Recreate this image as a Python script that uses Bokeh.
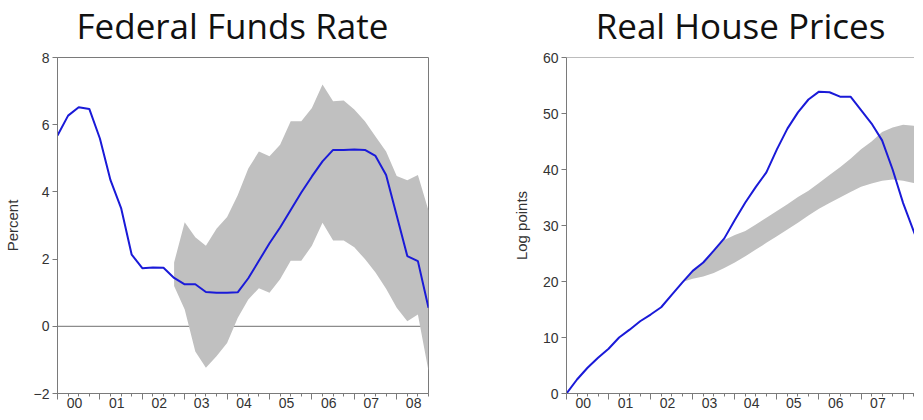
from bokeh.plotting import figure
from bokeh.layouts import row
from bokeh.models import Range1d, FixedTicker, LinearAxis, Span
from bokeh.embed import file_html
from bokeh.resources import INLINE

# ---------------- data ----------------
quarters = [2000 + q / 4 for q in range(36)]          # 2000Q1 .. 2008Q4
years = list(range(2000, 2009))
year_labels = ["00", "01", "02", "03", "04", "05", "06", "07", "08"]

fed_funds = [5.68, 6.27, 6.52, 6.47, 5.59, 4.35, 3.52, 2.13, 1.73, 1.75, 1.74, 1.44,
             1.25, 1.25, 1.02, 1.00, 1.00, 1.01, 1.43, 1.95, 2.47, 2.94, 3.46, 3.98,
             4.46, 4.91, 5.25, 5.25, 5.26, 5.25, 5.07, 4.50, 3.30, 2.09, 1.94, 0.55]

band_quarters = quarters[11:]                          # 2002Q4 .. 2008Q4
ff_upper = [1.9, 3.1, 2.65, 2.4, 2.9, 3.25, 3.9, 4.7, 5.2, 5.06, 5.4, 6.1, 6.1,
            6.5, 7.2, 6.7, 6.72, 6.45, 6.1, 5.65, 5.2, 4.47, 4.35, 4.5, 3.45]
ff_lower = [1.2, 0.5, -0.75, -1.23, -0.89, -0.5, 0.25, 0.8, 1.13, 1.0, 1.4, 1.95, 1.95,
            2.4, 3.08, 2.55, 2.55, 2.35, 2.0, 1.6, 1.12, 0.55, 0.15, 0.35, -1.33]

house_prices = [0.0, 2.5, 4.6, 6.4, 8.0, 10.0, 11.4, 12.9, 14.1, 15.4, 17.6, 19.8,
                21.9, 23.4, 25.5, 27.7, 31.0, 34.1, 36.9, 39.5, 43.6, 47.3, 50.2, 52.5,
                53.9, 53.8, 53.0, 53.0, 50.6, 48.2, 45.2, 40.0, 34.0, 29.0, 24.0, 19.0]
hp_upper = [19.9, 21.9, 23.4, 25.5, 27.4, 28.3, 29.0, 30.2, 31.4, 32.6, 33.8, 35.1, 36.2,
            37.6, 39.0, 40.4, 41.9, 43.6, 45.0, 46.7, 47.5, 48.0, 47.8, 47.3, 46.6]
hp_lower = [19.9, 20.5, 20.9, 21.5, 22.4, 23.4, 24.5, 25.7, 26.9, 28.1, 29.3, 30.5, 31.8,
            33.0, 34.0, 35.0, 36.0, 36.9, 37.5, 38.0, 38.2, 38.0, 37.6, 37.2, 36.6]

ff_ticks = [-2, 0, 2, 4, 6, 8]
hp_ticks = [0, 10, 20, 30, 40, 50, 60]

# ---------------- style ----------------
FRAME = "#7a7a7a"
BLUE = "#1a1ad8"
BAND = "#c0c0c0"
TXT = "#333333"
TICK_FONT = "Liberation Sans"
TITLE_FONT = "Open Sans"


def style_axes(p, y_ticks, y_label, label_range_end):
    # bottom axis 1: tick marks only (labels not painted)
    xa = p.xaxis[0]
    xa.ticker = FixedTicker(ticks=years, minor_ticks=quarters)
    xa.axis_line_color = FRAME
    xa.major_tick_line_color = FRAME
    xa.minor_tick_line_color = FRAME
    xa.major_tick_out = 6
    xa.major_tick_in = 0
    xa.minor_tick_out = 3
    xa.minor_tick_in = 0
    xa.major_label_text_color = None
    xa.major_label_text_font_size = "1px"
    xa.major_label_standoff = 0
    xa.axis_label = None
    # bottom axis 2: year labels set between the year ticks
    p.extra_x_ranges = {"lbl": Range1d(2000 - 0.4, label_range_end - 0.4)}
    la = LinearAxis(x_range_name="lbl",
                    ticker=FixedTicker(ticks=years, minor_ticks=[]),
                    major_label_overrides={y: s for y, s in zip(years, year_labels)},
                    axis_line_color=None, major_tick_line_color=None,
                    minor_tick_line_color=None, major_tick_out=0, major_tick_in=0,
                    major_label_standoff=-2, axis_label=None,
                    major_label_text_font=TICK_FONT,
                    major_label_text_font_size="14px",
                    major_label_text_color=TXT)
    p.add_layout(la, "below")

    # invisible spacer axis above the frame (keeps the title clear of the frame)
    sp = LinearAxis(ticker=FixedTicker(ticks=[years[0]], minor_ticks=[]),
                    axis_line_color=None, major_tick_line_color=None,
                    minor_tick_line_color=None, major_tick_out=6, major_tick_in=0,
                    major_label_standoff=0, major_label_text_color=None,
                    major_label_text_font_size="1px", axis_label=None)
    p.add_layout(sp, "above")

    ya = p.yaxis[0]
    ya.ticker = FixedTicker(ticks=y_ticks, minor_ticks=[])
    ya.axis_line_color = FRAME
    ya.major_tick_line_color = FRAME
    ya.major_tick_out = 5
    ya.major_tick_in = 0
    ya.major_label_standoff = 3
    ya.major_label_text_font = TICK_FONT
    ya.major_label_text_font_size = "14px"
    ya.major_label_text_color = TXT
    ya.axis_label = y_label
    ya.axis_label_text_font = TICK_FONT
    ya.axis_label_text_font_size = "15px"
    ya.axis_label_text_font_style = "normal"
    ya.axis_label_text_color = TXT

    p.xgrid.grid_line_color = None
    p.ygrid.grid_line_color = None
    p.title.vertical_align = "top"
    p.title.standoff = 2
    p.title.text_font = TITLE_FONT
    p.title.text_font_size = "35px"
    p.title.text_font_style = "normal"
    p.title.text_color = "#111111"
    p.background_fill_color = "white"
    p.border_fill_color = "white"


# ---------------- left panel ----------------
p1 = figure(frame_width=371, frame_height=336, title="Federal Funds Rate",
            x_range=Range1d(2000, 2008.75), y_range=Range1d(-2, 8),
            output_backend="svg", toolbar_location=None,
            min_border_left=50, min_border_right=51, min_border_top=0, min_border_bottom=0)
p1.outline_line_color = FRAME
p1.add_layout(Span(location=0, dimension="width", line_color="#707070",
                   line_width=1, level="underlay"))
p1.varea(x=band_quarters, y1=ff_lower, y2=ff_upper, fill_color=BAND)
p1.line(quarters, fed_funds, line_color=BLUE, line_width=2)
style_axes(p1, ff_ticks, "Percent", 2008.75)
p1.yaxis[0].axis_label_standoff = 10
p1.title.align = "left"
p1.title.offset = 19

# ---------------- right panel ----------------
x_end_right = 2008.27
p2 = figure(frame_width=348, frame_height=336, title="Real House Prices",
            x_range=Range1d(2000, x_end_right), y_range=Range1d(0, 60),
            output_backend="svg", toolbar_location=None,
            min_border_left=87, min_border_right=0, min_border_top=0, min_border_bottom=0)
p2.outline_line_color = None
p2.add_layout(Span(location=60, dimension="width", line_color=FRAME, line_width=1))
p2.varea(x=band_quarters, y1=hp_lower, y2=hp_upper, fill_color=BAND)
p2.line(quarters, house_prices, line_color=BLUE, line_width=2)
style_axes(p2, hp_ticks, "Log points", x_end_right)
p2.yaxis[0].axis_label_standoff = 10
p2.title.align = "center"

layout = row(p1, p2)
open("out.html", "w").write(file_html(layout, INLINE))
